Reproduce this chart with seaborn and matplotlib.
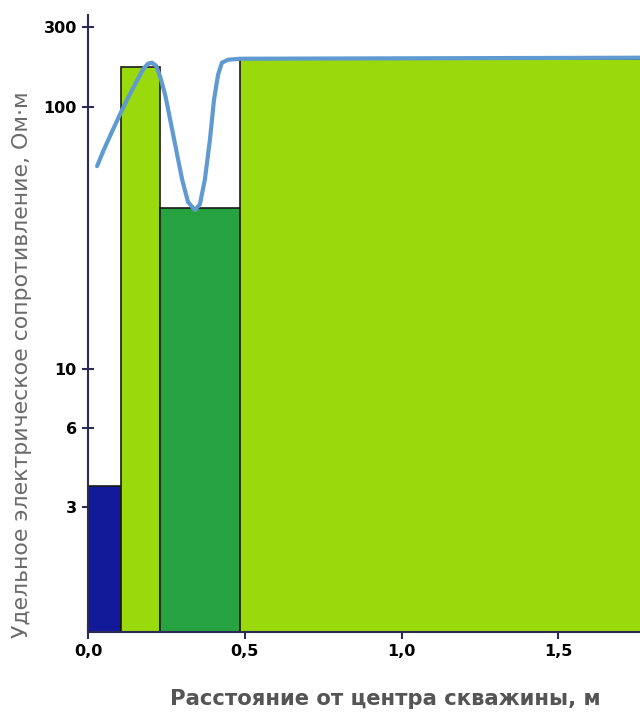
import numpy as np
import matplotlib
matplotlib.use("Agg")
import matplotlib.pyplot as plt
import seaborn as sns
import pandas as pd

# --- data ---
layer_left = [0.0, 0.105, 0.23, 0.486]
layer_right = [0.105, 0.23, 0.486, 1.80]
layer_res = [3.6, 142.0, 41.0, 151.0]
layer_colors = ["#131a9a", "#9ada0c", "#26a340", "#9ada0c"]

curve_x = [0.029, 0.051, 0.077, 0.102, 0.128, 0.153, 0.175, 0.191, 0.204, 0.217,
           0.230, 0.246, 0.262, 0.281, 0.300, 0.319, 0.341, 0.357, 0.373, 0.389,
           0.402, 0.415, 0.427, 0.447, 0.485, 1.80]
curve_y = [59.3, 68.7, 80.4, 93.3, 108.2, 123.3, 138.1, 145.5, 146.8, 143.0,
           129.9, 111.0, 89.3, 68.7, 52.9, 43.3, 40.4, 42.5, 52.9, 75.0,
           106.3, 132.3, 146.8, 150.7, 152.0, 153.4]

yticks = [3, 6, 10, 100, 200]
ytick_labels = ["3", "6", "10", "100", "300"]
xticks = [0.0, 0.5, 1.0, 1.5]
xtick_labels = ["0,0", "0,5", "1,0", "1,5"]

sns.set_style("white")
plt.rcParams['font.family'] = ['DejaVu Sans']

fig = plt.figure(figsize=(6.40, 7.13), dpi=100)
ax = fig.add_axes([88/640, (713-632)/713, (640-88)/640, (632-15)/713])

for l, r, h, c in zip(layer_left, layer_right, layer_res, layer_colors):
    ax.bar(l, h, width=r - l, align="edge", color=c, edgecolor="#1a1a1a",
           linewidth=1.2, zorder=2)

df = pd.DataFrame({"x": curve_x, "y": curve_y})
sns.lineplot(data=df, x="x", y="y", ax=ax, color="#5f9bd0", linewidth=3.0,
             sort=False, estimator=None, zorder=3)

ax.set_yscale("log")
ax.set_ylim(1.0, 223)
ax.set_xlim(0, 552/313.5)

ax.set_yticks(yticks)
ax.set_yticklabels(ytick_labels)
ax.yaxis.set_minor_locator(matplotlib.ticker.NullLocator())
ax.set_xticks(xticks)
ax.set_xticklabels(xtick_labels)

axis_color = "#2b2b55"
for s in ["top", "right"]:
    ax.spines[s].set_visible(False)
for s in ["left", "bottom"]:
    ax.spines[s].set_color(axis_color)
    ax.spines[s].set_linewidth(1.5)
    ax.spines[s].set_zorder(4)

ax.tick_params(axis="both", which="major", bottom=True, left=True,
               direction="inout", width=1.5,
               color=axis_color, labelsize=11.5, labelcolor="black")
ax.tick_params(axis="y", length=8, pad=4)
ax.tick_params(axis="x", length=10, pad=4)
for lab in ax.get_xticklabels() + ax.get_yticklabels():
    lab.set_fontweight("bold")

ax.set_xlabel("Расстояние от центра скважины, м", fontsize=15.2, color="#555555",
              fontweight="semibold")
ax.xaxis.set_label_coords((385-88)/552, -(699-632)/617)
ax.xaxis.label.set_va("center")
ax.set_ylabel("Удельное электрическое сопротивление, Ом·м", fontsize=15.8,
              color="#6a6a6a")
ax.yaxis.set_label_coords(-(88-22)/552, (632-365)/617)
ax.yaxis.label.set_va("center")
ax.yaxis.label.set_ha("center")

fig.savefig("out.png", dpi=100)
